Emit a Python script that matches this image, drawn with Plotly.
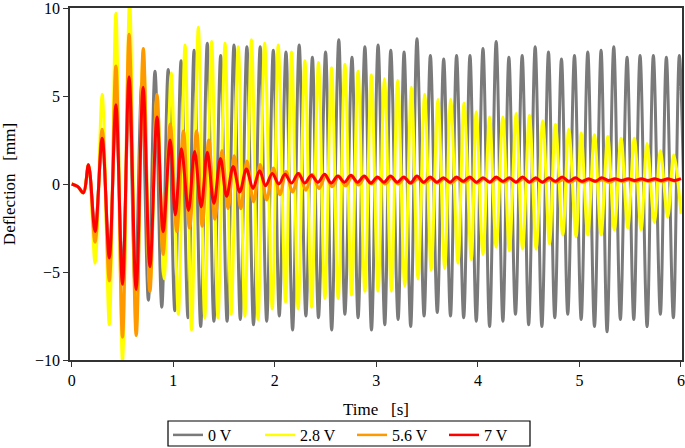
import plotly.graph_objects as go

# ---- data (times in s, deflection in mm) ----
onset_t = [0.0, 0.06, 0.115]
onset_v = [0.0, -0.15, -0.5]

# 0 V (gray)
gray_pk_t = [0.165, 0.30, 0.435, 0.565, 0.69, 0.82, 0.95, 1.077, 1.205, 1.335, 1.467, 1.598, 1.725, 1.856, 1.985,
             2.11, 2.24, 2.37, 2.50, 2.63, 2.76, 2.887, 3.017, 3.142, 3.273, 3.40, 3.532, 3.663, 3.79, 3.922,
             4.05, 4.18, 4.305, 4.436, 4.564, 4.695, 4.823, 4.951, 5.082, 5.213, 5.338, 5.469, 5.597, 5.728, 5.856, 5.984]
gray_pk_v = [1.0, 2.5, 4.0, 5.0, 5.8, 6.4, 6.5, 7.0, 7.6, 8.0, 7.3, 7.9, 7.8, 7.8, 7.6,
             7.5, 7.9, 7.2, 7.5, 8.2, 7.2, 7.8, 7.9, 7.6, 7.5, 8.25, 7.3, 7.1, 7.3, 7.3,
             7.7, 8.1, 7.2, 7.3, 7.8, 7.5, 7.1, 7.3, 7.5, 7.6, 7.8, 7.2, 7.3, 7.3, 7.2, 7.3]
gray_tr_t = [0.23, 0.37, 0.50, 0.625, 0.755, 0.887, 1.015, 1.145, 1.27, 1.40, 1.53, 1.66, 1.79, 1.92, 2.044,
             2.175, 2.306, 2.43, 2.56, 2.69, 2.82, 2.952, 3.083, 3.214, 3.338, 3.47, 3.60, 3.73, 3.86, 3.984,
             4.115, 4.246, 4.37, 4.50, 4.63, 4.757, 4.885, 5.017, 5.148, 5.272, 5.403, 5.535, 5.666, 5.797, 5.925, 6.05]
gray_tr_v = [-2.5, -4.0, -5.0, -5.8, -6.6, -7.0, -7.2, -7.6, -8.1, -7.8, -7.8, -7.7, -8.0, -7.8, -7.5,
             -8.3, -7.5, -7.6, -8.3, -7.4, -7.6, -8.3, -8.0, -7.7, -8.1, -7.5, -7.3, -7.5, -7.6, -7.8,
             -8.1, -7.8, -7.4, -8.0, -8.1, -7.6, -7.4, -7.7, -8.1, -8.4, -7.7, -7.7, -8.1, -7.4, -7.6, -7.6]

# 2.8 V (yellow)
yel_pk_t = [0.165, 0.30, 0.435, 0.57, 0.705, 0.84, 0.98, 1.116, 1.247, 1.378, 1.51, 1.64, 1.77, 1.90, 2.034,
            2.165, 2.296, 2.43, 2.559, 2.69, 2.82, 2.95, 3.08, 3.21, 3.345, 3.476, 3.607, 3.732, 3.863, 3.984,
            4.115, 4.246, 4.377, 4.508, 4.639, 4.764, 4.895, 5.017, 5.148, 5.279, 5.41, 5.541, 5.666, 5.797, 5.928]
yel_pk_v = [1.1, 5.1, 9.7, 10.4, 7.5, 5.0, 6.3, 7.9, 8.9, 8.1, 8.0, 7.8, 8.2, 8.0, 7.9,
            7.5, 7.0, 6.9, 6.6, 6.8, 6.4, 6.2, 6.0, 5.9, 5.5, 5.1, 4.8, 4.8, 4.6, 4.1,
            3.8, 3.8, 4.0, 3.9, 3.6, 3.4, 3.1, 2.9, 2.8, 2.7, 2.6, 2.6, 2.3, 1.9, 1.65]
yel_tr_t = [0.23, 0.37, 0.50, 0.635, 0.77, 0.91, 1.05, 1.18, 1.31, 1.44, 1.57, 1.705, 1.835, 1.975, 2.106,
            2.23, 2.362, 2.493, 2.624, 2.755, 2.887, 3.017, 3.148, 3.28, 3.41, 3.54, 3.673, 3.804, 3.935, 4.05,
            4.18, 4.31, 4.44, 4.574, 4.705, 4.836, 4.967, 5.082, 5.213, 5.344, 5.476, 5.607, 5.738, 5.869, 6.0]
yel_tr_v = [-4.5, -8.0, -10.1, -8.2, -5.8, -5.4, -7.4, -8.3, -7.6, -7.6, -7.4, -7.5, -7.7, -7.1, -6.7,
            -7.1, -7.0, -6.5, -6.5, -6.3, -6.1, -6.1, -6.1, -5.8, -5.4, -4.9, -4.8, -4.5, -4.3, -4.0,
            -3.6, -3.8, -3.7, -3.7, -3.4, -2.9, -3.0, -2.9, -2.9, -2.6, -2.5, -2.6, -2.2, -1.9, -1.7]

# 5.6 V (orange)
org_pk_t = [0.165, 0.30, 0.435, 0.565, 0.705, 0.84, 0.97, 1.10, 1.23, 1.35, 1.48, 1.60, 1.725, 1.855, 1.985,
            2.11, 2.24, 2.37, 2.50, 2.63, 2.76, 2.89, 3.02, 3.15, 3.28, 3.41, 3.54, 3.67, 3.80, 3.93,
            4.06, 4.19, 4.32, 4.45, 4.58, 4.71, 4.84, 4.97, 5.10, 5.23, 5.36, 5.49, 5.62, 5.75, 5.88]
org_pk_v = [1.1, 3.1, 6.7, 8.5, 7.7, 5.1, 3.4, 3.0, 3.0, 2.5, 1.9, 1.6, 1.3, 1.1, 0.9,
            0.7, 0.6, 0.55, 0.45, 0.45, 0.4, 0.4, 0.35, 0.35, 0.35, 0.3, 0.3, 0.3, 0.3, 0.3,
            0.3, 0.3, 0.3, 0.3, 0.25, 0.25, 0.25, 0.25, 0.25, 0.25, 0.25, 0.25, 0.25, 0.25, 0.25]
org_tr_t = [0.23, 0.37, 0.50, 0.635, 0.77, 0.90, 1.035, 1.16, 1.285, 1.41, 1.54, 1.665, 1.79, 1.92, 2.05,
            2.175, 2.305, 2.435, 2.565, 2.695, 2.825, 2.955, 3.085, 3.215, 3.345, 3.475, 3.605, 3.735, 3.865, 3.995,
            4.125, 4.255, 4.385, 4.515, 4.645, 4.775, 4.905, 5.035, 5.165, 5.295, 5.425, 5.555, 5.685, 5.815, 5.945]
org_tr_v = [-3.3, -5.5, -8.7, -8.6, -6.1, -4.0, -2.7, -2.5, -2.4, -2.0, -1.4, -1.4, -1.0, -0.9, -0.6,
            -0.45, -0.35, -0.25, -0.15, -0.1, -0.05, 0.0, 0.0, 0.0, 0.05, 0.05, 0.05, 0.05, 0.1, 0.05,
            0.1, 0.1, 0.1, 0.1, 0.1, 0.1, 0.1, 0.1, 0.15, 0.1, 0.15, 0.15, 0.15, 0.15, 0.15]

# 7 V (red)
red_pk_t = [0.165, 0.30, 0.435, 0.565, 0.703, 0.84, 0.97, 1.08, 1.21, 1.335, 1.465, 1.59, 1.72, 1.85, 1.975,
            2.10, 2.23, 2.36, 2.49, 2.62, 2.75, 2.88, 3.01, 3.14, 3.27, 3.40, 3.53, 3.66, 3.79, 3.92,
            4.05, 4.18, 4.31, 4.44, 4.57, 4.70, 4.83, 4.96, 5.09, 5.22, 5.35, 5.48, 5.61, 5.74, 5.87, 6.0]
red_pk_v = [1.1, 2.6, 4.5, 6.1, 5.5, 3.8, 2.5, 2.0, 1.85, 1.8, 1.45, 1.0, 0.85, 0.75, 0.6,
            0.55, 0.6, 0.5, 0.55, 0.45, 0.5, 0.45, 0.4, 0.45, 0.4, 0.45, 0.4, 0.35, 0.4, 0.4,
            0.35, 0.4, 0.35, 0.4, 0.35, 0.35, 0.4, 0.35, 0.3, 0.35, 0.3, 0.3, 0.3, 0.3, 0.3, 0.3]
red_tr_t = [0.23, 0.37, 0.50, 0.634, 0.77, 0.90, 1.02, 1.15, 1.275, 1.40, 1.525, 1.655, 1.785, 1.91, 2.04,
            2.165, 2.295, 2.425, 2.555, 2.685, 2.815, 2.945, 3.075, 3.205, 3.335, 3.465, 3.595, 3.725, 3.855, 3.985,
            4.115, 4.245, 4.375, 4.505, 4.635, 4.765, 4.895, 5.025, 5.155, 5.285, 5.415, 5.545, 5.675, 5.805, 5.935]
red_tr_v = [-2.7, -4.2, -5.7, -6.0, -4.7, -2.7, -1.75, -1.5, -1.3, -1.1, -0.7, -0.45, -0.25, -0.1, 0.0,
            0.05, 0.05, 0.1, 0.05, 0.1, 0.1, 0.05, 0.1, 0.1, 0.05, 0.1, 0.1, 0.1, 0.15, 0.1,
            0.1, 0.15, 0.1, 0.1, 0.1, 0.15, 0.15, 0.15, 0.15, 0.2, 0.2, 0.2, 0.2, 0.2, 0.2]

series_names = ["0 V", "2.8 V", "5.6 V", "7 V"]
series_colors = ["#7a7a7a", "#ffff00", "#ff9900", "#ff0000"]
x_ticks = [0, 1, 2, 3, 4, 5, 6]
y_ticks = [-10, -5, 0, 5, 10]


def merge(pt, pv, tt, tv):
    pts = list(zip(onset_t, onset_v)) + list(zip(pt, pv)) + list(zip(tt, tv))
    pts.sort(key=lambda p: p[0])
    return [p[0] for p in pts], [p[1] for p in pts]


data = [
    merge(gray_pk_t, gray_pk_v, gray_tr_t, gray_tr_v),
    merge(yel_pk_t, yel_pk_v, yel_tr_t, yel_tr_v),
    merge(org_pk_t, org_pk_v, org_tr_t, org_tr_v),
    merge(red_pk_t, red_pk_v, red_tr_t, red_tr_v),
]

FONT = "Liberation Serif"
W, H = 685, 448
ML, MR, MT, MB = 70, 3, 8, 88
PW, PH = W - ML - MR, H - MT - MB

fig = go.Figure()
for (t, v), name, col, w in zip(data, series_names, series_colors, [3, 3, 3.2, 3]):
    fig.add_trace(go.Scatter(x=t, y=v, mode="lines", name=name, showlegend=False,
                             line=dict(color=col, width=w, shape="spline", smoothing=1.0),
                             hoverinfo="skip"))
# legend entries (thin sample lines, as in the reference legend)
for name, col in zip(series_names, series_colors):
    fig.add_trace(go.Scatter(x=[None], y=[None], mode="lines", name=name,
                             line=dict(color=col, width=2.5), showlegend=True))

axis_common = dict(showline=True, linecolor="#333333", linewidth=1.5, mirror=True,
                   ticks="outside", ticklen=5, tickwidth=1, tickcolor="#333333",
                   showgrid=False, zeroline=False, automargin=False,
                   ticklabeloverflow="allow",
                   tickfont=dict(family=FONT, size=16, color="black"))

fig.update_layout(
    width=W, height=H,
    margin=dict(l=ML, r=MR, t=MT, b=MB, autoexpand=False),
    paper_bgcolor="white", plot_bgcolor="white",
    font=dict(family=FONT, size=16, color="black"),
    xaxis=dict(range=[-0.017, 6.01], tickvals=x_ticks,
               title=dict(text="Time\u00a0\u00a0\u00a0[s]", font=dict(family=FONT, size=17)),
               **axis_common),
    yaxis=dict(range=[-10, 10], tickvals=y_ticks,
               title=dict(text="Deflection\u00a0\u00a0\u00a0[mm]", font=dict(family=FONT, size=17)),
               **axis_common),
    legend=dict(orientation="h", x=(168 - ML) / PW, xanchor="left", y=-(418 - (H - MB)) / PH, yanchor="top",
                borderwidth=0, bgcolor="rgba(0,0,0,0)",
                font=dict(family=FONT, size=16), entrywidth=47, entrywidthmode="pixels",
                tracegroupgap=0, itemwidth=30),
    shapes=[dict(type="rect", xref="paper", yref="paper",
                 x0=(168 - ML) / PW, x1=(530 - ML) / PW,
                 y0=-(446 - (H - MB)) / PH, y1=-(421 - (H - MB)) / PH,
                 line=dict(color="black", width=1.2), fillcolor="rgba(0,0,0,0)")],
    showlegend=True,
)

fig.write_html("out.html", config={"displayModeBar": False},
               post_script="document.body.style.margin='0';document.body.style.overflow='hidden';")
